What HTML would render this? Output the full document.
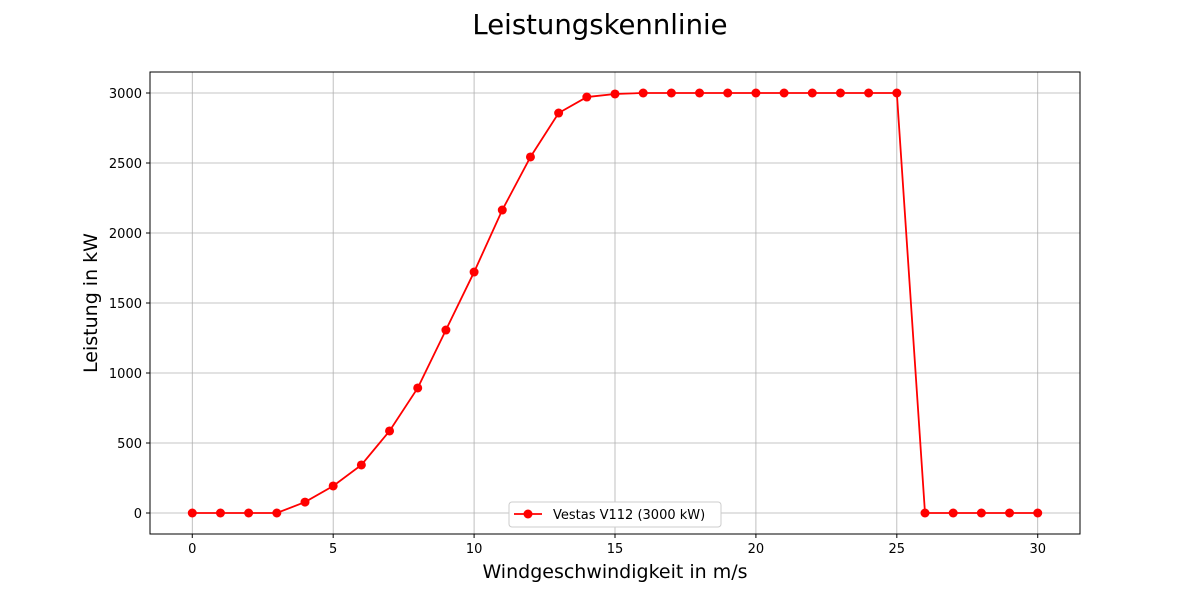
<!DOCTYPE html>
<html><head><meta charset="utf-8"><style>
body{margin:0;background:#fff;font-family:"Liberation Sans","DejaVu Sans",sans-serif}
</style></head><body>
<svg id="chart" width="1200" height="600" xmlns="http://www.w3.org/2000/svg" font-family="DejaVu Sans, Liberation Sans, sans-serif"></svg>
<script>
const speeds=[0,1,2,3,4,5,6,7,8,9,10,11,12,13,14,15,16,17,18,19,20,21,22,23,24,25,26,27,28,29,30];
const power=[0,0,0,0,78,193,343,586,893,1307,1721,2164,2543,2857,2971,2993,3000,3000,3000,3000,3000,3000,3000,3000,3000,3000,0,0,0,0,0];
const xTicks=[0,5,10,15,20,25,30];
const yTicks=[0,500,1000,1500,2000,2500,3000];
const L=150,R=1080,T=72,B=534,xmin=-1.5,xmax=31.5,ymin=-150,ymax=3150;
const sx=v=>L+(v-xmin)/(xmax-xmin)*(R-L);
const sy=v=>B-(v-ymin)/(ymax-ymin)*(B-T);
const svg=document.getElementById('chart');
const NS='http://www.w3.org/2000/svg';
function mk(tag,attrs,parent){const e=document.createElementNS(NS,tag);for(const k in attrs)e.setAttribute(k,attrs[k]);(parent||svg).appendChild(e);return e;}
let t=mk('text',{x:600,y:34,'text-anchor':'middle','font-size':27.5});t.textContent='Leistungskennlinie';


xTicks.forEach(v=>{const x=sx(v);
let g=mk('line',{x1:x,x2:x,y1:T,y2:B,stroke:'#b0b0b0','stroke-width':0.8});


mk('line',{x1:x,x2:x,y1:B,y2:B+4,stroke:'#000'});
let l=mk('text',{x:x,y:B+19,'text-anchor':'middle','font-size':13});l.textContent=v;

});
yTicks.forEach(v=>{const y=sy(v);
let g=mk('line',{x1:L,x2:R,y1:y,y2:y,stroke:'#b0b0b0','stroke-width':0.8});


mk('line',{x1:L-4,x2:L,y1:y,y2:y,stroke:'#000'});
let l=mk('text',{x:L-8,y:y+5,'text-anchor':'end','font-size':13});l.textContent=v;

});
let fr=mk('rect',{x:L,y:T,width:R-L,height:B-T,fill:'none',stroke:'#000','stroke-width':1});


let pl=mk('polyline',{points:speeds.map((s,i)=>sx(s)+','+sy(power[i])).join(' '),fill:'none',stroke:'#ff0000','stroke-width':1.8});


speeds.forEach((s,i)=>{let c=mk('circle',{cx:sx(s),cy:sy(power[i]),r:4.5,fill:'#ff0000'});

});
let xl=mk('text',{x:615,y:578,'text-anchor':'middle','font-size':19});xl.textContent='Windgeschwindigkeit in m/s';


let yl=mk('text',{x:97,y:303,'text-anchor':'middle','font-size':19,transform:'rotate(-90 97 303)'});yl.textContent='Leistung in kW';


const lg=mk('g',{});


mk('rect',{x:509,y:502,width:212,height:25,rx:3,fill:'#fff',stroke:'#ccc'},lg);
mk('line',{x1:514,x2:542,y1:514,y2:514,stroke:'#ff0000','stroke-width':1.8},lg);
mk('circle',{cx:528,cy:514,r:4.5,fill:'#ff0000'},lg);
let lt=mk('text',{x:553,y:519,'font-size':13},lg);lt.textContent='Vestas V112 (3000 kW)';


</script>
</body></html>
